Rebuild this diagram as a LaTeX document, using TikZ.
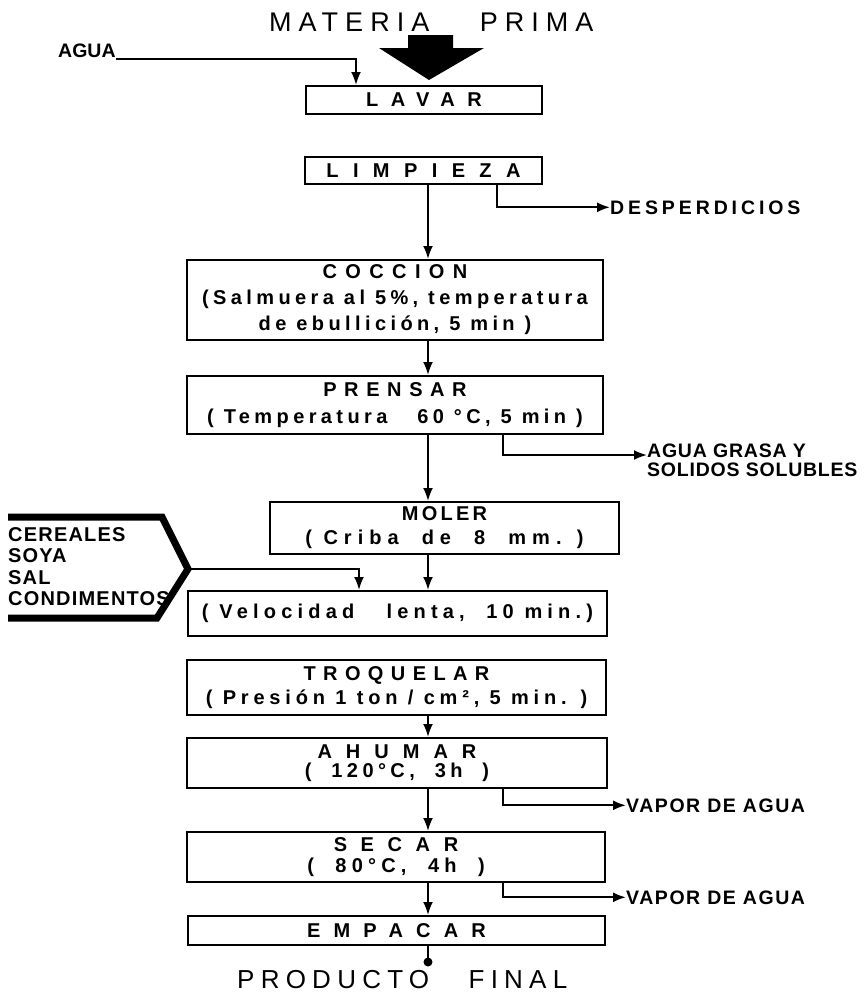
\documentclass[tikz,border=0pt]{standalone}
\usepackage{fontspec}
\setmainfont{Liberation Sans}
\usetikzlibrary{arrows.meta}

\newcommand\esp[2]{{\addfontfeature{LetterSpace=#1}#2}}

\begin{document}
\begin{tikzpicture}[x=1pt, y=-1pt,
	paso/.style={draw, line width=2pt, inner sep=0pt, align=center,
		font=\bfseries\fontsize{20}{24}\selectfont},
	flecha/.style={line width=2pt, -{Latex[length=13pt,width=10pt]}},
	linea/.style={line width=2pt},
	salida/.style={inner sep=0pt, anchor=base west,
		font=\bfseries\fontsize{19.5}{21.5}\selectfont},
	titulo/.style={inner sep=0pt, anchor=base west,
		font=\fontsize{27}{30}\selectfont}]
	\useasboundingbox (0,0) rectangle (867,994);
	\coordinate (eje) at (428,0);
	\coordinate (lado) at (503,0);
	\coordinate (desx) at (497,0);
	\coordinate (aguax) at (356,0);
	\coordinate (cerx) at (359,0);
	\coordinate (brtip) at (188,569);
	\coordinate (fin) at (428,962);

	% entrada y salida
	\node[titulo] (materia) at (269,31) {\esp{26}{MATERIA \hspace{36pt}PRIMA}};
	\node[titulo, font=\fontsize{26}{30}\selectfont] (producto) at (237,988) {\esp{24}{PRODUCTO \hspace{26pt}FINAL}};
	\fill[black] (408,35) -- (453,35) -- (453,48) -- (484,48) -- (429,80) -- (379,48) -- (408,48) -- cycle;

	% etapas
	\node[paso, minimum width=236pt, minimum height=28pt] (lavar) at (424,100) {\esp{62}{LAVAR}};
	\node[paso, minimum width=237pt, minimum height=27pt] (limpieza) at (423.5,170.5) {\esp{72}{LIMPIEZA}};
	\node[paso, minimum width=416pt, minimum height=80pt] (coccion) at (395,300)
		{\esp{42}{COCCION}\\[2pt] \esp{22}{(Salmuera al 5\%, temperatura}\\[2pt] \esp{22}{de ebullición, 5 min )}};
	\node[paso, minimum width=416pt, minimum height=58pt] (prensar) at (395,405)
		{\esp{38}{PRENSAR}\\[3pt] \esp{22}{( Temperatura \ \ 60 °C, 5 min )}};
	\node[paso, minimum width=349pt, minimum height=52pt] (moler) at (444.5,528)
		{\esp{16}{MOLER}\\ \esp{30}{( Criba \ de \ 8 \ mm. )}};
	\node[paso, minimum width=419pt, minimum height=45pt] (mezclar) at (397.5,613.5)
		{\esp{26}{( Velocidad \ \ lenta, \ 10 min.)}};
	\node[paso, minimum width=419pt, minimum height=55pt] (troquelar) at (396.5,687.5)
		{\esp{37}{TROQUELAR}\\ \esp{24}{( Presión 1 ton / cm², 5 min. )}};
	\node[paso, minimum width=420pt, minimum height=50pt] (ahumar) at (397,763)
		{\esp{70}{AHUMAR}\\[-5pt] \esp{22}{( \ 120°C, \ 3h \ )}};
	\node[paso, minimum width=418pt, minimum height=50pt] (secar) at (396,857)
		{\esp{68}{SECAR}\\[-3pt] \esp{26}{( \ 80°C, \ 4h \ )}};
	\node[paso, minimum width=417pt, minimum height=29pt] (empacar) at (396.5,930.5) {\esp{66}{EMPACAR}};

	% entradas y salidas laterales
	\node[salida] (agua) at (58,57) {AGUA};
	\node[salida] (desp) at (610,214) {\esp{20}{DESPERDICIOS}};
	\node[salida] (grasa1) at (647,457) {\esp{4}{AGUA GRASA Y}};
	\node[salida] (grasa2) at (647,476) {\esp{4}{SOLIDOS SOLUBLES}};
	\node[salida] (vapor1) at (626,812) {\esp{8}{VAPOR DE AGUA}};
	\node[salida] (vapor2) at (626,904) {\esp{8}{VAPOR DE AGUA}};
	\node[salida, anchor=north west, align=left, font=\bfseries\fontsize{20}{21.5}\selectfont] (cereales) at (8,527)
		{\esp{6}{CEREALES}\\ \esp{6}{SOYA}\\ \esp{6}{SAL}\\ \esp{6}{CONDIMENTOS}};
	\draw[line width=7pt] (8,517) -- (162,517) -- (brtip) -- (157,618) -- (8,618);

	% conexiones
	\draw[flecha] ([yshift=-2pt]agua.base east) -| (lavar.north -| aguax);
	\draw[flecha] (limpieza.south -| eje) -- (coccion.north -| eje);
	\draw[flecha] (coccion.south -| eje) -- (prensar.north -| eje);
	\draw[flecha] (prensar.south -| eje) -- (moler.north -| eje);
	\draw[flecha] (moler.south -| eje) -- (mezclar.north -| eje);
	\draw[flecha] (brtip) -| (mezclar.north -| cerx);
	\draw[flecha] (troquelar.south -| eje) -- (ahumar.north -| eje);
	\draw[flecha] (ahumar.south -| eje) -- (secar.north -| eje);
	\draw[flecha] (secar.south -| eje) -- (empacar.north -| eje);
	\draw[linea] (empacar.south -| eje) -- (fin);
	\fill[black] (fin) circle (4.5);
	\draw[flecha] (limpieza.south -| desx) |- (desp.west);
	\draw[flecha] (prensar.south -| lado) |- ([yshift=2pt]grasa1.base west);
	\draw[flecha] (ahumar.south -| lado) |- (vapor1.west);
	\draw[flecha] (secar.south -| lado) |- (vapor2.west);
\end{tikzpicture}
\end{document}
